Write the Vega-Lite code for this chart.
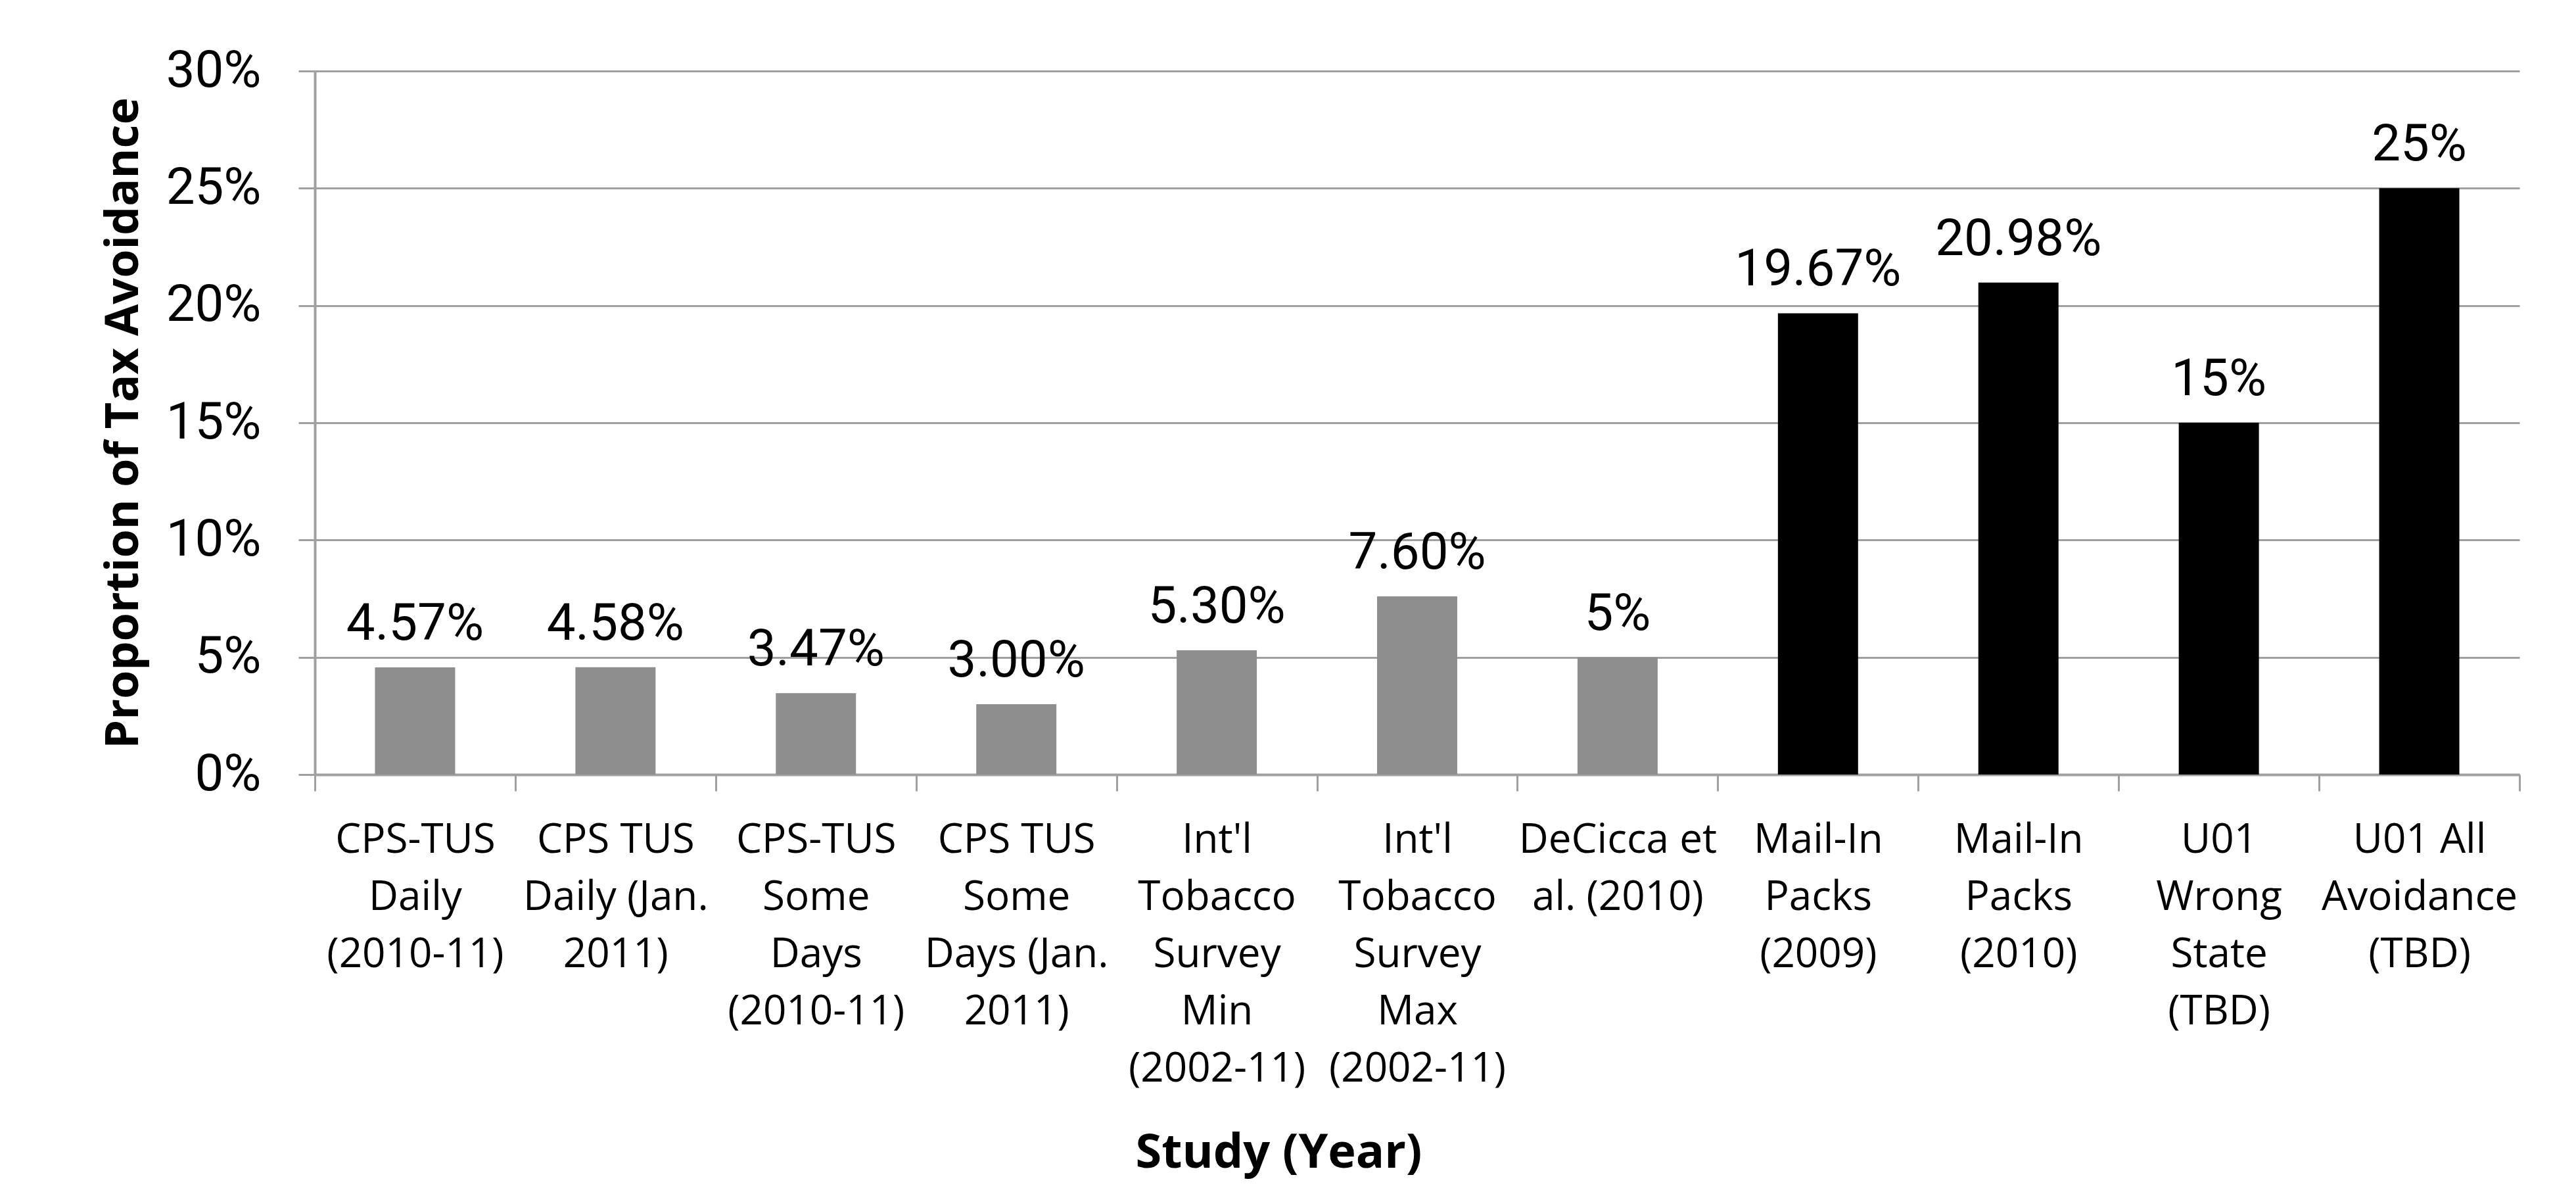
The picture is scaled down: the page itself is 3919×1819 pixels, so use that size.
{
  "$schema": "https://vega.github.io/schema/vega-lite/v6.json",
  "width": 3354,
  "height": 1070,
  "autosize": {"type": "none"},
  "padding": {"left": 479, "top": 108, "right": 86, "bottom": 641},
  "background": "white",
  "data": {
    "values": [
      {"study": "CPS-TUS|Daily|(2010-11)", "value": 0.0457, "label": "4.57%", "group": "other"},
      {"study": "CPS TUS|Daily (Jan.|2011)", "value": 0.0458, "label": "4.58%", "group": "other"},
      {"study": "CPS-TUS|Some|Days|(2010-11)", "value": 0.0347, "label": "3.47%", "group": "other"},
      {"study": "CPS TUS|Some|Days (Jan.|2011)", "value": 0.03, "label": "3.00%", "group": "other"},
      {"study": "Int'l|Tobacco|Survey|Min|(2002-11)", "value": 0.053, "label": "5.30%", "group": "other"},
      {"study": "Int'l|Tobacco|Survey|Max|(2002-11)", "value": 0.076, "label": "7.60%", "group": "other"},
      {"study": "DeCicca et|al. (2010)", "value": 0.05, "label": "5%", "group": "other"},
      {"study": "Mail-In|Packs|(2009)", "value": 0.1967, "label": "19.67%", "group": "new"},
      {"study": "Mail-In|Packs|(2010)", "value": 0.2098, "label": "20.98%", "group": "new"},
      {"study": "U01|Wrong|State|(TBD)", "value": 0.15, "label": "15%", "group": "new"},
      {"study": "U01 All|Avoidance|(TBD)", "value": 0.25, "label": "25%", "group": "new"}
    ]
  },
  "encoding": {
    "x": {
      "field": "study",
      "type": "nominal",
      "sort": null,
      "scale": {"paddingInner": 0, "paddingOuter": 0},
      "axis": {
        "title": "Study (Year)",
        "labelExpr": "isString(datum.value) ? split(datum.value, '|') : ''",
        "labelAngle": 0,
        "labelLimit": 0,
        "labelFont": "Open Sans",
        "labelFontSize": 62,
        "labelLineHeight": 87,
        "labelColor": "black",
        "labelPadding": 44,
        "labelBaseline": "top",
        "labelOverlap": false,
        "tickBand": "extent",
        "tickSize": 25,
        "tickWidth": 3,
        "tickColor": "#a0a0a0",
        "domainColor": "#a0a0a0",
        "domainWidth": 4,
        "grid": false,
        "titleFont": "Open Sans",
        "titleFontWeight": "bold",
        "titleFontSize": 72,
        "titleColor": "black",
        "titleBaseline": "top",
        "titleX": 1466,
        "titleY": 540
      }
    },
    "y": {
      "field": "value",
      "type": "quantitative",
      "scale": {"domain": [0, 0.3]},
      "axis": {
        "title": "Proportion of Tax Avoidance",
        "values": [0, 0.05, 0.1, 0.15, 0.2, 0.25, 0.3],
        "format": ".0%",
        "labelFont": "Roboto",
        "labelFontSize": 78,
        "labelColor": "black",
        "labelPadding": 57,
        "tickSize": 25,
        "tickWidth": 3,
        "tickColor": "#a0a0a0",
        "domainColor": "#a0a0a0",
        "domainWidth": 4,
        "gridColor": "#a0a0a0",
        "gridWidth": 3,
        "titleFont": "Open Sans",
        "titleFontWeight": "bold",
        "titleFontSize": 70,
        "titleColor": "black",
        "titlePadding": 55
      }
    }
  },
  "layer": [
    {
      "mark": {"type": "bar", "width": {"band": 0.4}},
      "encoding": {
        "color": {
          "field": "group",
          "type": "nominal",
          "scale": {"domain": ["other", "new"], "range": ["#8e8e8e", "#000000"]},
          "legend": null
        }
      }
    },
    {
      "mark": {"type": "text", "font": "Roboto", "fontSize": 78, "baseline": "alphabetic", "dy": -42, "color": "black"},
      "encoding": {"text": {"field": "label"}}
    }
  ],
  "config": {"view": {"stroke": null}}
}
